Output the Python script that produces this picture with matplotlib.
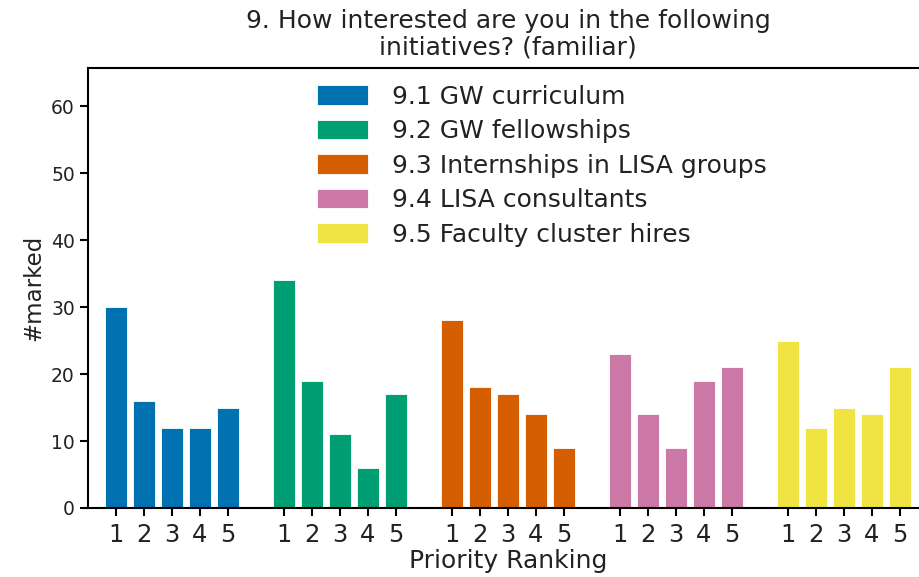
import numpy as np
import matplotlib
matplotlib.use("Agg")
import matplotlib.pyplot as plt

# survey answers per initiative, priority 1..5
ranks = [1, 2, 3, 4, 5]
labels = ["9.1 GW curriculum", "9.2 GW fellowships", "9.3 Internships in LISA groups",
          "9.4 LISA consultants", "9.5 Faculty cluster hires"]
curriculum = [30, 16, 12, 12, 15]
fellowships = [34, 19, 11, 6, 17]
internships = [28, 18, 17, 14, 9]
consultants = [23, 14, 9, 19, 21]
cluster_hires = [25, 12, 15, 14, 21]
colors = ["#0072B2", "#009E73", "#D55E00", "#CC79A7", "#F0E442"]

series = [curriculum, fellowships, internships, consultants, cluster_hires]

plt.rcParams['font.family'] = ['DejaVu Sans']
fig = plt.figure(figsize=(9.2, 5.77), dpi=100)
ax = fig.add_axes([0.0957, 0.1196, 0.913, 0.7626])

xticks = []
xticklabels = []
for i, vals in enumerate(series):
    x = np.array(ranks) + 6 * i
    ax.bar(x, vals, width=0.8, color=colors[i], edgecolor="white", linewidth=0.6, label=labels[i])
    xticks += list(x)
    xticklabels += [str(r) for r in ranks]

ax.set_xticks(xticks)
ax.set_xticklabels(xticklabels, fontsize=17.5, color="#222222")
ax.set_xlim(0, 30)
ax.set_ylim(0, 65.7)
ax.set_yticks([0, 10, 20, 30, 40, 50, 60])
ax.tick_params(axis='y', labelsize=13.5, length=6, width=1.5, direction='out', labelcolor="#222222")
ax.tick_params(axis='x', length=6, width=1.5, direction='out', pad=5)
for s in ax.spines.values():
    s.set_linewidth(1.5)

ax.set_xlabel("Priority Ranking", fontsize=18, color="#222222", labelpad=1)
ax.set_ylabel("#marked", fontsize=16.5, color="#222222")
ax.set_title("9. How interested are you in the following\ninitiatives? (familiar)",
             fontsize=18, color="#222222", pad=10, linespacing=1.1)

ax.legend(loc="upper left", bbox_to_anchor=(0.2726, 0.962), frameon=False, fontsize=18,
          borderaxespad=0, borderpad=0, handlelength=2.05, handleheight=0.8,
          handletextpad=0.95, labelspacing=0.42, labelcolor="#222222")

fig.savefig("out.png", dpi=100)
